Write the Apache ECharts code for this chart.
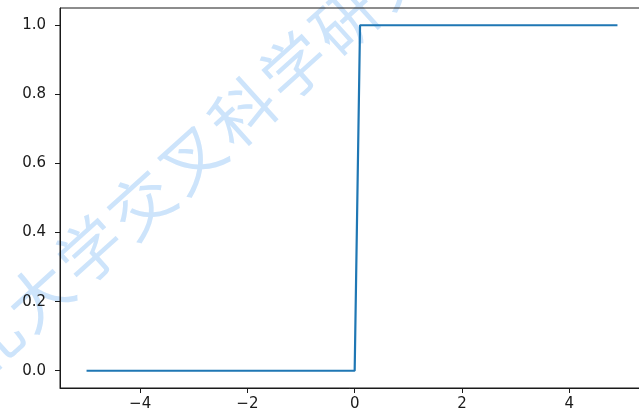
<!DOCTYPE html>
<html>
<head>
<meta charset="utf-8">
<script src="https://cdn.jsdelivr.net/npm/echarts@6/dist/echarts.min.js"></script>
<style>
  html, body { margin: 0; padding: 0; background: #fff; }
  #chart { width: 639px; height: 417px; }
</style>
</head>
<body>
<div id="chart"></div>
<script>
// Step function: 0 up to x = 0, jumping to 1 at the next sample (x = 0.1)
const stepX = [-5.0, 0.0, 0.1, 4.9];
const stepY = [0, 0, 1, 1];

// Tick positions shown on each axis
const xTicks = [-4, -2, 0, 2, 4];
const yTicks = [0.0, 0.2, 0.4, 0.6, 0.8, 1.0];

// Axis extents (data range plus 5% padding on each side)
const xRange = [-5.495, 5.395];
const yRange = [-0.05, 1.05];

// Watermark text running diagonally across the plot
const watermark = '北大学交叉科学研究院';

const points = stepX.map((x, i) => [x, stepY[i]]);

const labelFont = {
  fontFamily: 'DejaVu Sans',
  fontSize: 15,
  color: '#1a1a1a'
};

// Place each watermark character along a rising diagonal
const wmChars = [];
const wmStart = [-12, 342];
const wmStep = [51, -46];
for (let i = 0; i < watermark.length; i++) {
  wmChars.push({
    type: 'text',
    x: wmStart[0] + wmStep[0] * i,
    y: wmStart[1] + wmStep[1] * i,
    rotation: Math.atan2(46, 51),
    style: {
      text: watermark[i],
      font: '64px "Noto Sans CJK SC"',
      fill: '#cde4fb',
      align: 'center',
      verticalAlign: 'middle'
    },
    z: -10
  });
}

const chart = echarts.init(document.getElementById('chart'), null, { renderer: 'canvas' });
chart.setOption({
  animation: false,
  backgroundColor: '#ffffff',
  graphic: wmChars,
  grid: {
    left: 60,
    top: 8,
    width: 584,
    height: 380,
    outerBoundsMode: 'none',
    show: true,
    borderColor: '#1a1a1a',
    borderWidth: 1,
    backgroundColor: 'transparent',
    containLabel: false
  },
  xAxis: {
    type: 'value',
    min: xRange[0],
    max: xRange[1],
    splitLine: { show: false },
    axisLine: { show: true, onZero: false, lineStyle: { color: '#1a1a1a', width: 1 } },
    axisTick: {
      show: true,
      customValues: xTicks,
      length: 5,
      lineStyle: { color: '#1a1a1a', width: 1 }
    },
    axisLabel: Object.assign({
      customValues: xTicks,
      margin: 9,
      formatter: v => String(v).replace('-', '\u2212')
    }, labelFont)
  },
  yAxis: {
    type: 'value',
    min: yRange[0],
    max: yRange[1],
    splitLine: { show: false },
    axisLine: { show: true, onZero: false, lineStyle: { color: '#1a1a1a', width: 1 } },
    axisTick: {
      show: true,
      customValues: yTicks,
      length: 5,
      lineStyle: { color: '#1a1a1a', width: 1 }
    },
    axisLabel: Object.assign({
      customValues: yTicks,
      margin: 14,
      formatter: v => v.toFixed(1)
    }, labelFont)
  },
  series: [{
    type: 'line',
    data: points,
    showSymbol: false,
    symbol: 'none',
    clip: true,
    lineStyle: { color: '#1f77b4', width: 2.2 },
    z: 5
  }]
});
</script>
</body>
</html>
